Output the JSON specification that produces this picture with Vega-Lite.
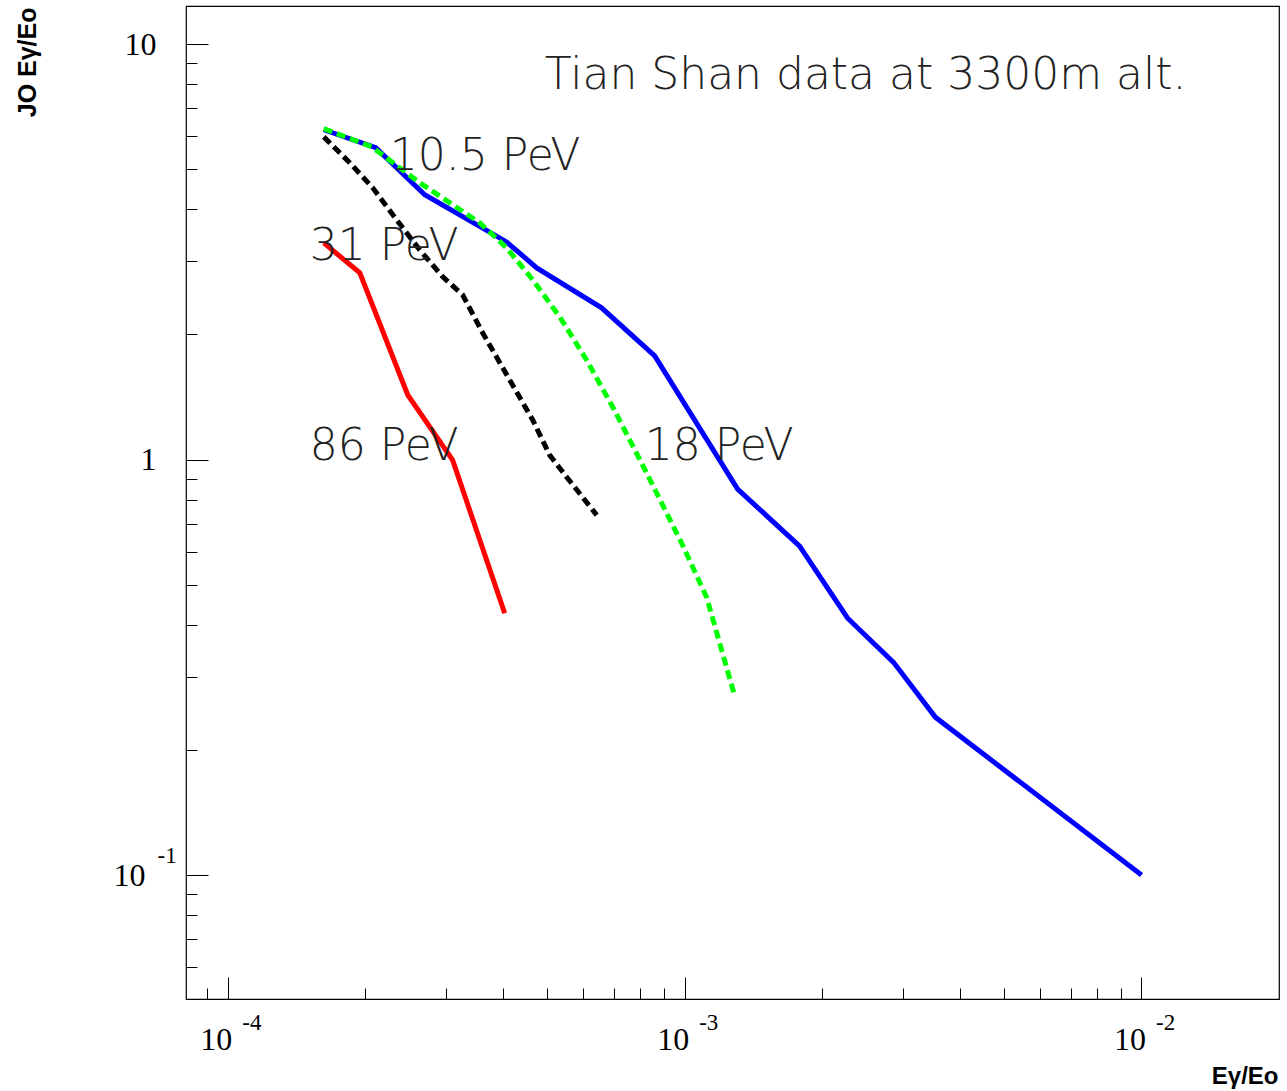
{
  "$schema": "https://vega.github.io/schema/vega-lite/v6.json",
  "width": 1093,
  "height": 993,
  "autosize": {"type": "none"},
  "padding": {"left": 186, "top": 6, "right": 8, "bottom": 92},
  "background": "white",
  "config": {
    "view": {"stroke": "#000", "strokeWidth": 1.2},
    "axis": {"grid": false, "domain": false}
  },
  "datasets": {
    "curves": [
      {"series": "10.5 PeV", "x": 0.0001622, "y": 6.22},
      {"series": "10.5 PeV", "x": 0.0002108, "y": 5.63},
      {"series": "10.5 PeV", "x": 0.0002698, "y": 4.34},
      {"series": "10.5 PeV", "x": 0.0004077, "y": 3.34},
      {"series": "10.5 PeV", "x": 0.0004745, "y": 2.893},
      {"series": "10.5 PeV", "x": 0.000658, "y": 2.318},
      {"series": "10.5 PeV", "x": 0.00086, "y": 1.776},
      {"series": "10.5 PeV", "x": 0.001306, "y": 0.849},
      {"series": "10.5 PeV", "x": 0.001785, "y": 0.619},
      {"series": "10.5 PeV", "x": 0.002274, "y": 0.415},
      {"series": "10.5 PeV", "x": 0.002866, "y": 0.325},
      {"series": "10.5 PeV", "x": 0.003541, "y": 0.2396},
      {"series": "10.5 PeV", "x": 0.01, "y": 0.1},
      {"series": "86 PeV", "x": 0.0001622, "y": 3.324},
      {"series": "86 PeV", "x": 0.0001945, "y": 2.814},
      {"series": "86 PeV", "x": 0.0002477, "y": 1.43},
      {"series": "86 PeV", "x": 0.0003106, "y": 0.997},
      {"series": "86 PeV", "x": 0.0004037, "y": 0.4267},
      {"series": "31 PeV", "x": 0.0001622, "y": 5.98},
      {"series": "31 PeV", "x": 0.0001849, "y": 5.18},
      {"series": "31 PeV", "x": 0.0002076, "y": 4.51},
      {"series": "31 PeV", "x": 0.0002378, "y": 3.693},
      {"series": "31 PeV", "x": 0.000263, "y": 3.197},
      {"series": "31 PeV", "x": 0.0002955, "y": 2.753},
      {"series": "31 PeV", "x": 0.0003266, "y": 2.491},
      {"series": "31 PeV", "x": 0.0003614, "y": 2.017},
      {"series": "31 PeV", "x": 0.0004141, "y": 1.554},
      {"series": "31 PeV", "x": 0.000465, "y": 1.245},
      {"series": "31 PeV", "x": 0.0005065, "y": 1.025},
      {"series": "31 PeV", "x": 0.000552, "y": 0.907},
      {"series": "31 PeV", "x": 0.000642, "y": 0.735},
      {"series": "18 PeV", "x": 0.0001622, "y": 6.26},
      {"series": "18 PeV", "x": 0.0002065, "y": 5.66},
      {"series": "18 PeV", "x": 0.000263, "y": 4.638},
      {"series": "18 PeV", "x": 0.0003559, "y": 3.715},
      {"series": "18 PeV", "x": 0.0004077, "y": 3.232},
      {"series": "18 PeV", "x": 0.000465, "y": 2.707},
      {"series": "18 PeV", "x": 0.000533, "y": 2.204},
      {"series": "18 PeV", "x": 0.00061, "y": 1.737},
      {"series": "18 PeV", "x": 0.000696, "y": 1.338},
      {"series": "18 PeV", "x": 0.000826, "y": 0.928},
      {"series": "18 PeV", "x": 0.00099, "y": 0.622},
      {"series": "18 PeV", "x": 0.001117, "y": 0.4664},
      {"series": "18 PeV", "x": 0.001286, "y": 0.2707}
    ],
    "notes": [
      {"label": "Tian Shan data at 3300m alt.", "x": 0.000494, "y": 7.81},
      {"label": "10.5 PeV", "x": 0.0002262, "y": 4.985},
      {"label": "31 PeV", "x": 0.0001512, "y": 3.025},
      {"label": "86 PeV", "x": 0.0001512, "y": 0.997},
      {"label": "18 PeV", "x": 0.000818, "y": 0.997}
    ]
  },
  "layer": [
    {
      "data": {"name": "curves"},
      "transform": [{"filter": "datum.series == '10.5 PeV' || datum.series == '86 PeV'"}],
      "mark": {"type": "line", "strokeWidth": 5},
      "encoding": {
        "x": {
          "field": "x", "type": "quantitative",
          "scale": {"type": "log", "domain": [0.000081, 0.02], "nice": false},
          "axis": {
            "orient": "bottom",
            "values": [0.00009, 0.0001, 0.0002, 0.0003, 0.0004, 0.0005, 0.0006, 0.0007, 0.0008, 0.0009, 0.001, 0.002, 0.003, 0.004, 0.005, 0.006, 0.007, 0.008, 0.009, 0.01],
            "tickSize": -11, "tickColor": "#000", "tickWidth": 1,
            "labelExpr": "(datum.value == 0.0001 || datum.value == 0.001 || datum.value == 0.01) ? '10' : ''",
            "labelFont": "Liberation Serif", "labelFontSize": 32, "labelColor": "#000",
            "labelAlign": "right", "labelOffset": 4, "labelBaseline": "alphabetic", "labelPadding": 61,
            "labelOverlap": false, "labelBound": false, "labelFlush": false,
            "title": "Eγ/Eo", "titleFont": "Liberation Sans", "titleFontWeight": "bold", "titleFontSize": 24, "titleColor": "#000",
            "titleAnchor": "end", "titleAlign": "right", "titleBaseline": "alphabetic", "titleX": 1092, "titleY": 84
          }
        },
        "y": {
          "field": "y", "type": "quantitative",
          "scale": {"type": "log", "domain": [0.0503, 12.35], "nice": false},
          "axis": {
            "orient": "left",
            "values": [0.06, 0.07, 0.08, 0.09, 0.1, 0.2, 0.3, 0.4, 0.5, 0.6, 0.7, 0.8, 0.9, 1, 2, 3, 4, 5, 6, 7, 8, 9, 10],
            "tickSize": -11, "tickColor": "#000", "tickWidth": 1,
            "labelExpr": "datum.value == 10 ? '10' : datum.value == 1 ? '1' : datum.value == 0.1 ? '10' : ''",
            "labelFont": "Liberation Serif", "labelFontSize": 32, "labelColor": "#000",
            "labelAlign": "right", "labelBaseline": "middle",
            "labelPadding": {"condition": {"test": "datum.value == 0.1", "value": 52}, "value": 41},
            "labelOverlap": false, "labelBound": false, "labelFlush": false,
            "title": "JO Eγ/Eo", "titleFont": "Liberation Sans", "titleFontWeight": "bold", "titleFontSize": 25, "titleColor": "#000",
            "titleAngle": 270, "titleAnchor": "end", "titleAlign": "right", "titleBaseline": "alphabetic", "titleX": -151, "titleY": 1
          }
        },
        "color": {
          "field": "series", "type": "nominal",
          "scale": {"domain": ["10.5 PeV", "18 PeV", "31 PeV", "86 PeV"], "range": ["#0000ff", "#00ff00", "#000000", "#ff0000"]},
          "legend": null
        }
      }
    },
    {
      "data": {"name": "curves"},
      "transform": [{"filter": "datum.series == '31 PeV' || datum.series == '18 PeV'"}],
      "mark": {"type": "line", "strokeWidth": 5, "strokeDash": [9, 5]},
      "encoding": {
        "x": {
          "field": "x", "type": "quantitative",
          "scale": {"type": "log", "domain": [0.000081, 0.02], "nice": false},
          "axis": {
            "orient": "bottom",
            "values": [0.0001, 0.001, 0.01],
            "tickSize": -22, "tickColor": "#000", "tickWidth": 1,
            "labelExpr": "datum.value == 0.0001 ? '-4' : datum.value == 0.001 ? '-3' : '-2'",
            "labelFont": "Liberation Serif", "labelFontSize": 23, "labelColor": "#000",
            "labelAlign": "left", "labelOffset": 14, "labelBaseline": "alphabetic", "labelPadding": 52,
            "labelOverlap": false, "labelBound": false, "labelFlush": false,
            "title": null
          }
        },
        "y": {
          "field": "y", "type": "quantitative",
          "scale": {"type": "log", "domain": [0.0503, 12.35], "nice": false},
          "axis": {
            "orient": "left",
            "values": [0.1, 1, 10],
            "tickSize": -22, "tickColor": "#000", "tickWidth": 1,
            "labelExpr": "datum.value == 0.1 ? '-1' : ''",
            "labelFont": "Liberation Serif", "labelFontSize": 23, "labelColor": "#000",
            "labelAlign": "left", "labelBaseline": "alphabetic", "labelOffset": -13, "labelPadding": 51,
            "labelOverlap": false, "labelBound": false, "labelFlush": false,
            "title": null
          }
        },
        "color": {
          "field": "series", "type": "nominal",
          "scale": {"domain": ["10.5 PeV", "18 PeV", "31 PeV", "86 PeV"], "range": ["#0000ff", "#00ff00", "#000000", "#ff0000"]},
          "legend": null
        }
      }
    },
    {
      "data": {"name": "notes"},
      "mark": {"type": "text", "align": "left", "baseline": "alphabetic", "font": "DejaVu Sans", "fontWeight": 200, "fontSize": 44, "color": "#222"},
      "encoding": {
        "x": {"field": "x", "type": "quantitative", "scale": {"type": "log", "domain": [0.000081, 0.02], "nice": false}, "axis": null},
        "y": {"field": "y", "type": "quantitative", "scale": {"type": "log", "domain": [0.0503, 12.35], "nice": false}, "axis": null},
        "text": {"field": "label", "type": "nominal"}
      }
    }
  ],
  "resolve": {"axis": {"x": "independent", "y": "independent"}}
}
